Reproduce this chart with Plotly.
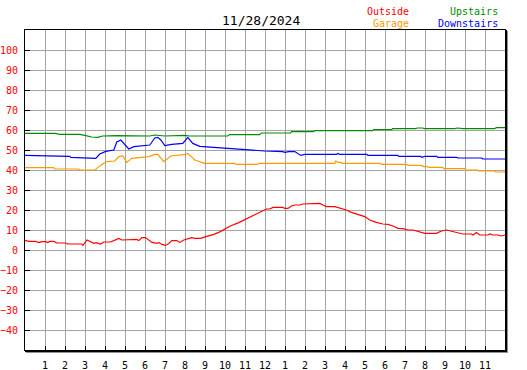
import plotly.graph_objects as go

# ---- data (hours since midnight, temperature °F) ----
outside_h = [0, 0.19, 0.54, 0.69, 0.84, 1.04, 1.14, 1.24, 1.44, 1.59, 2.04, 2.14, 2.84, 2.9, 3.1, 3.27,
             3.44, 3.57, 3.77, 3.94, 4.27, 4.44, 4.69, 4.84, 5.09, 5.27, 5.59, 5.69, 5.84, 6.02, 6.19,
             6.35, 6.6, 6.69, 6.85, 7.02, 7.19, 7.34, 7.59, 7.74, 7.94, 8.1, 8.34, 8.49, 8.79, 9.04,
             9.19, 9.44, 9.69, 9.94, 10.27, 10.69, 11.02, 11.44, 11.69, 11.9, 12.07, 12.24, 12.4, 12.9,
             12.99, 13.15, 13.32, 13.49, 13.74, 13.89, 14.24, 14.49, 14.74, 14.9, 15.07, 15.49, 15.82,
             16.07, 16.32, 16.65, 16.99, 17.24, 17.57, 17.9, 18.15, 18.4, 18.65, 18.9, 19.15, 19.4,
             19.65, 19.99, 20.57, 20.82, 21.07, 21.4, 21.74, 21.9, 22.32, 22.4, 22.57, 22.74, 23.15,
             23.24, 23.4, 23.65, 23.82, 24]
outside_t = [4.8, 4.3, 4.3, 3.7, 4.2, 4.2, 3.7, 4.3, 4.3, 3.5, 3.5, 3.0, 3.0, 2.3, 5.0, 4.2,
             3.3, 3.7, 3.0, 4.0, 4.0, 4.7, 5.8, 5.0, 5.0, 5.3, 5.3, 4.7, 6.2, 6.2, 5.0,
             3.8, 3.3, 3.8, 2.8, 2.3, 3.3, 4.7, 4.7, 3.8, 5.0, 5.5, 6.2, 5.8, 5.8, 6.7,
             7.0, 7.8, 8.8, 10.3, 12.0, 13.7, 15.3, 17.5, 18.7, 19.8, 20.5, 20.5, 21.3, 21.3,
             20.8, 20.8, 22.0, 22.5, 22.5, 23.0, 23.0, 23.3, 23.3, 22.5, 21.7, 21.7, 20.8,
             20.0, 18.8, 17.8, 16.7, 15.0, 13.8, 13.0, 12.8, 12.0, 10.8, 10.7, 10.0, 10.0,
             9.2, 8.3, 8.3, 9.5, 10.0, 9.2, 8.3, 8.0, 8.0, 7.5, 8.8, 7.5, 7.5,
             8.0, 7.5, 7.5, 7.0, 7.5]

garage_h = [0, 1.44, 1.49, 2.69, 2.74, 3.49, 3.84, 4.09, 4.49, 4.69, 4.89, 5.09, 5.34, 5.79, 6.19,
            6.49, 6.64, 6.94, 7.29, 8.04, 8.14, 8.49, 8.74, 8.99, 10.49, 10.54, 11.64, 11.69, 15.49,
            15.54, 15.64, 15.79, 15.84, 17.74, 17.84, 19.09, 19.14, 19.79, 19.94, 20.14, 20.19,
            20.89, 20.94, 21.99, 22.04, 22.64, 22.69, 23.49, 23.54, 24]
garage_t = [41.2, 41.2, 40.5, 40.5, 40.0, 40.0, 42.8, 44.2, 44.5, 46.7, 47.0, 43.8, 45.8, 46.3, 46.7,
            47.8, 47.8, 44.2, 47.0, 47.8, 48.3, 45.0, 44.2, 43.3, 43.3, 42.8, 42.8, 43.3, 43.3,
            44.5, 43.8, 43.8, 43.3, 43.3, 42.8, 42.8, 42.3, 42.3, 41.7, 41.7, 41.3,
            41.3, 40.7, 40.7, 40.0, 40.0, 39.5, 39.5, 39.0, 39.0]

upstairs_h = [0, 1.5, 1.73, 2.73, 2.99, 3.33, 3.64, 3.88, 4.59, 6.24, 6.48, 6.98, 7.98, 8.23, 10.13,
              10.23, 11.73, 11.83, 13.28, 13.33, 14.43, 14.48, 17.38, 17.43, 18.33, 18.38, 19.53,
              19.63, 19.88, 19.98, 21.48, 21.63, 21.88, 23.48, 23.58, 24]
upstairs_t = [58.3, 58.3, 57.8, 57.8, 57.3, 56.5, 56.3, 57.0, 57.2, 57.0, 57.5, 57.0, 57.3, 57.0, 57.0,
              57.7, 57.7, 58.5, 58.5, 59.2, 59.2, 59.7, 59.7, 60.2, 60.2, 60.7, 60.7,
              61.0, 61.0, 60.7, 60.7, 61.0, 60.7, 60.7, 61.2, 61.2]

downstairs_h = [0, 1.49, 2.24, 2.29, 3.34, 3.54, 3.74, 4.04, 4.44, 4.59, 4.79, 4.94, 5.19, 5.44, 5.79,
                6.24, 6.49, 6.64, 6.79, 6.99, 7.34, 7.89, 8.14, 8.39, 8.74, 9.49, 10.34, 10.99, 11.99,
                12.89, 12.99, 13.19, 13.49, 13.79, 13.99, 15.59, 15.64, 15.74, 17.09, 17.14, 18.64,
                18.69, 19.79, 19.84, 19.99, 20.59, 20.64, 21.59, 21.64, 22.84, 22.89, 24]
downstairs_t = [47.3, 47.0, 46.8, 46.3, 46.0, 45.8, 48.0, 49.3, 50.0, 54.0, 55.0, 53.5, 50.5, 51.7, 52.2,
                52.5, 56.0, 56.3, 55.0, 52.2, 52.8, 53.3, 56.3, 53.3, 51.8, 51.2, 50.5, 50.2, 49.5,
                49.2, 48.8, 49.2, 49.2, 47.3, 47.8, 47.8, 48.3, 47.8, 47.8, 47.3, 47.3,
                46.8, 46.8, 46.3, 46.8, 46.8, 46.3, 46.3, 46.0, 46.0, 45.5, 45.5]

x_tickvals = list(range(1, 24))
x_ticktext = [str(h) for h in range(1, 12)] + ["12"] + [str(h) for h in range(1, 12)]
y_tickvals = list(range(-40, 101, 10))

title_text = "11/28/2024"

RED = "#ff0000"
ORANGE = "#ff9900"
GREEN = "#008c00"
BLUE = "#0000ff"
MONO = "DejaVu Sans Mono"

fig = go.Figure()
for xs, ys, col, nm in [(upstairs_h, upstairs_t, GREEN, "Upstairs"),
                        (downstairs_h, downstairs_t, BLUE, "Downstairs"),
                        (garage_h, garage_t, ORANGE, "Garage"),
                        (outside_h, outside_t, RED, "Outside")]:
    fig.add_trace(go.Scatter(x=xs, y=ys, mode="lines", name=nm,
                             line=dict(color=col, width=1.2), showlegend=False))

W, H = 480, 320
fig.update_layout(
    width=527, height=370,
    margin=dict(l=25, r=22, t=30, b=20, pad=0, autoexpand=False),
    paper_bgcolor="white", plot_bgcolor="white",
    showlegend=False,
    xaxis=dict(range=[0, 24], tickvals=x_tickvals, ticktext=x_ticktext,
               showgrid=True, gridcolor="#a4a4a4", gridwidth=1,
               ticks="inside", ticklen=4, tickcolor="black", tickwidth=1,
               showline=True, linecolor="black", linewidth=1, mirror=True,
               tickfont=dict(family=MONO, size=10, color="black"),
               ticklabelstandoff=6, zeroline=False, fixedrange=True, automargin=False),
    yaxis=dict(range=[-50, 110], tickvals=y_tickvals,
               showgrid=True, gridcolor="#a4a4a4", gridwidth=1,
               ticks="inside", ticklen=5, tickcolor="black", tickwidth=1,
               showline=True, linecolor="black", linewidth=1, mirror=True,
               tickfont=dict(family=MONO, size=10, color=RED),
               ticklabelstandoff=4, zeroline=False, fixedrange=True, automargin=False),
)

# heavier right/bottom border with shadow
fig.add_shape(type="line", xref="paper", yref="paper",
              x0=1 + 1.0 / W, x1=1 + 1.0 / W, y0=-2.0 / H, y1=1,
              line=dict(color="black", width=2))
fig.add_shape(type="line", xref="paper", yref="paper",
              x0=1 + 2.5 / W, x1=1 + 2.5 / W, y0=-3.0 / H, y1=1 - 1.0 / H,
              line=dict(color="#909090", width=1))
fig.add_shape(type="line", xref="paper", yref="paper",
              x0=0, x1=1 + 2.0 / W, y0=-1.0 / H, y1=-1.0 / H,
              line=dict(color="black", width=2))
fig.add_shape(type="line", xref="paper", yref="paper",
              x0=1.0 / W, x1=1 + 3.0 / W, y0=-2.5 / H, y1=-2.5 / H,
              line=dict(color="#909090", width=1))

fig.add_annotation(text=title_text, xref="paper", yref="paper",
                   x=(261 - 25.3) / W, y=1 + (30 - 20) / H, xanchor="center", yanchor="middle",
                   showarrow=False, font=dict(family=MONO, size=13, color="black"))

for txt, col, xr, yc in [("Outside", RED, 411, 11.3), ("Garage", ORANGE, 411, 23.3),
                         ("Upstairs", GREEN, 500, 11.3), ("Downstairs", BLUE, 500, 23.3)]:
    fig.add_annotation(text=txt, xref="paper", yref="paper",
                       x=(xr - 25.3) / W, y=1 + (30 - yc) / H,
                       xanchor="right", yanchor="middle", showarrow=False,
                       font=dict(family=MONO, size=10, color=col))

fig.write_html("out.html",
               config={"displayModeBar": False, "staticPlot": True},
               post_script="document.body.style.margin='0';document.body.style.overflow='hidden';")
